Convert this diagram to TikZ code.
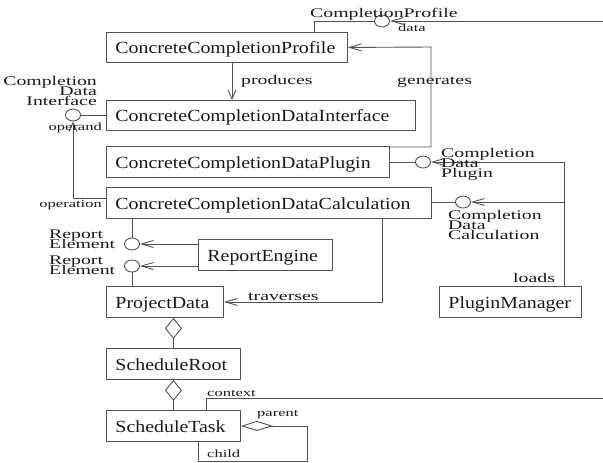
\documentclass[tikz,border=0pt]{standalone}
\usepackage{fontspec}
\setmainfont{Liberation Serif}[FakeStretch=1.17]
\newfontfamily\widefont{Liberation Serif}[FakeStretch=1.5]
\usetikzlibrary{arrows.meta,shapes.geometric}
% class names, and the wide low lettering of the labels;
% stacked labels overlap instead of falling back to \lineskip
\newcommand\boxf{\fontsize{17pt}{20pt}\selectfont}
\newcommand\bigf{\widefont\fontsize{13.2pt}{10pt}\selectfont\lineskiplimit=-100pt\relax}
\newcommand\smallf{\widefont\fontsize{11pt}{10pt}\selectfont\lineskiplimit=-100pt\relax}
\tikzset{
  ln/.style={draw=black!68, line width=0.9pt},
  cls/.style={ln, rectangle, anchor=north west, inner xsep=9pt, inner ysep=0pt,
              text height=13pt, text depth=0pt, font=\boxf, text=black!90},
  lolli/.style={ln, ellipse, fill=white, minimum width=15pt, minimum height=12pt, inner sep=0pt},
  harr/.style={ln, -{Straight Barb[length=12pt,width=7pt]}},
  varr/.style={ln, -{Straight Barb[length=9pt,width=8pt]}},
  agg/.style={ln, {Diamond[open,length=21pt,width=17pt]}-},
  lbl/.style={font=\bigf, inner sep=0pt, text=black!90},
  slbl/.style={font=\smallf, inner sep=0pt, text=black!90},
  stack/.style={lbl, align=left, anchor=north west},
}
\begin{document}
\begin{tikzpicture}[x=1pt,y=-1pt]
\useasboundingbox (0,0) rectangle (603,463);

% classes
\node[cls, minimum height=30pt] (prof)  at (106,32)  {\makebox[223pt][l]{ConcreteCompletionProfile}};
\node[cls, minimum height=30pt] (iface) at (106,100) {\makebox[291pt][l]{ConcreteCompletionDataInterface}};
\node[cls, minimum height=31pt] (plug)  at (106,146) {\makebox[265pt][l]{ConcreteCompletionDataPlugin}};
\node[cls, minimum height=31pt] (calc)  at (106,187) {\makebox[307pt][l]{ConcreteCompletionDataCalculation}};
\node[cls, minimum height=31pt] (rep)   at (198,239) {\makebox[116pt][l]{ReportEngine}};
\node[cls, minimum height=31pt] (proj)  at (106,286) {\makebox[99pt][l]{ProjectData}};
\node[cls, minimum height=31pt] (root)  at (106,348) {\makebox[116pt][l]{ScheduleRoot}};
\node[cls, minimum height=31pt] (task)  at (106,410) {\makebox[116pt][l]{ScheduleTask}};
\node[cls, minimum height=31pt] (pm)    at (439,286) {\makebox[124pt][l]{PluginManager}};

% provided interfaces (lollipops)
\node[lolli] (cpc) at (382,21)  {};
\node[lolli] (cdi) at (73,115)  {};
\node[lolli] (cdp) at (423,162) {};
\node[lolli] (cdc) at (463,202) {};
\node[lolli] (re1) at (132,244) {};
\node[lolli] (re2) at (132,266) {};

% free ends and bends
\coordinate (cpin) at (603,21);
\coordinate (genx) at (431,47);
\coordinate (trv)  at (382,301);
\coordinate (ldc)  at (564,202);
\coordinate (ctx)  at (603,398);
\coordinate (loop) at (307,461);

% produces / generates
\draw[varr] ([xshift=126pt]prof.south west) -- ([xshift=126pt]iface.north west);
\draw[harr] ([yshift=-1pt]plug.north east) -| (genx) -- (prof.east);

% CompletionProfile
\draw[ln] ([xshift=208pt]prof.north west) |- (cpc.west);
\draw[harr] (cpin) -- (cpc.east);

% CompletionDataInterface
\draw[ln] (cdi.east) -- (iface.west |- cdi.east);
\draw[varr] ([yshift=5pt]calc.west) -| (cdi.south);

% plugin and calculation interfaces used by the PluginManager
\draw[ln] (plug.east |- cdp.west) -- (cdp.west);
\draw[harr] ([xshift=125pt]pm.north west) |- (cdp.east);
\draw[ln] (calc.east |- cdc.west) -- (cdc.west);
\draw[harr] (ldc) -- (cdc.east);

% report elements
\draw[ln] (calc.south -| re1.north) -- (re1.north);
\draw[ln] (re2.south) -- (proj.north -| re2.south);
\draw[harr] (rep.west |- re1.east) -- (re1.east);
\draw[harr] (rep.west |- re2.east) -- (re2.east);

% traverses
\draw[harr] (calc.south -| trv) |- (proj.east);

% aggregations
\draw[agg] (proj.south -| root.north) -- (root.north);
\draw[agg] (root.south -| task.north) -- (task.north);
\draw[ln, {Diamond[open,length=32pt,width=10pt]}-] (task.east) -| (loop) -| ([xshift=92pt]task.south west);
\draw[ln] ([xshift=100pt]task.north west) |- (ctx);

% labels
\node[lbl, anchor=base west] (lprod) at (241,84)  {produces};
\node[lbl, anchor=base west] (lgen)  at (397,84)  {generates};
\node[lbl, anchor=base west] (ltrv)  at (248,300) {traverses};
\node[lbl, anchor=base west] (lload) at (513,282) {loads};
\node[lbl, anchor=base west] (lcp)   at (310,17)  {CompletionProfile};
\node[slbl, anchor=base west] (ldata) at (398,31)  {data};
\node[slbl, anchor=base east] (lopd)  at (102,130) {operand};
\node[slbl, anchor=base east] (lopn)  at (102,207) {operation};
\node[slbl, anchor=base west] (lctx)  at (207,396) {context};
\node[slbl, anchor=base west] (lpar)  at (257,416) {parent};
\node[slbl, anchor=base west] (lchd)  at (207,457) {child};
\node[lbl, align=right, anchor=north east] (lcdi) at (97,76) {Completion\\Data\\Interface};
\node[stack] (lcdp) at (441,148) {Completion\\Data\\Plugin};
\node[stack] (lcdc) at (448,210) {Completion\\Data\\Calculation};
\node[stack] (lre1) at (49,230) {Report\\Element};
\node[stack] (lre2) at (49,256) {Report\\Element};
\end{tikzpicture}
\end{document}
